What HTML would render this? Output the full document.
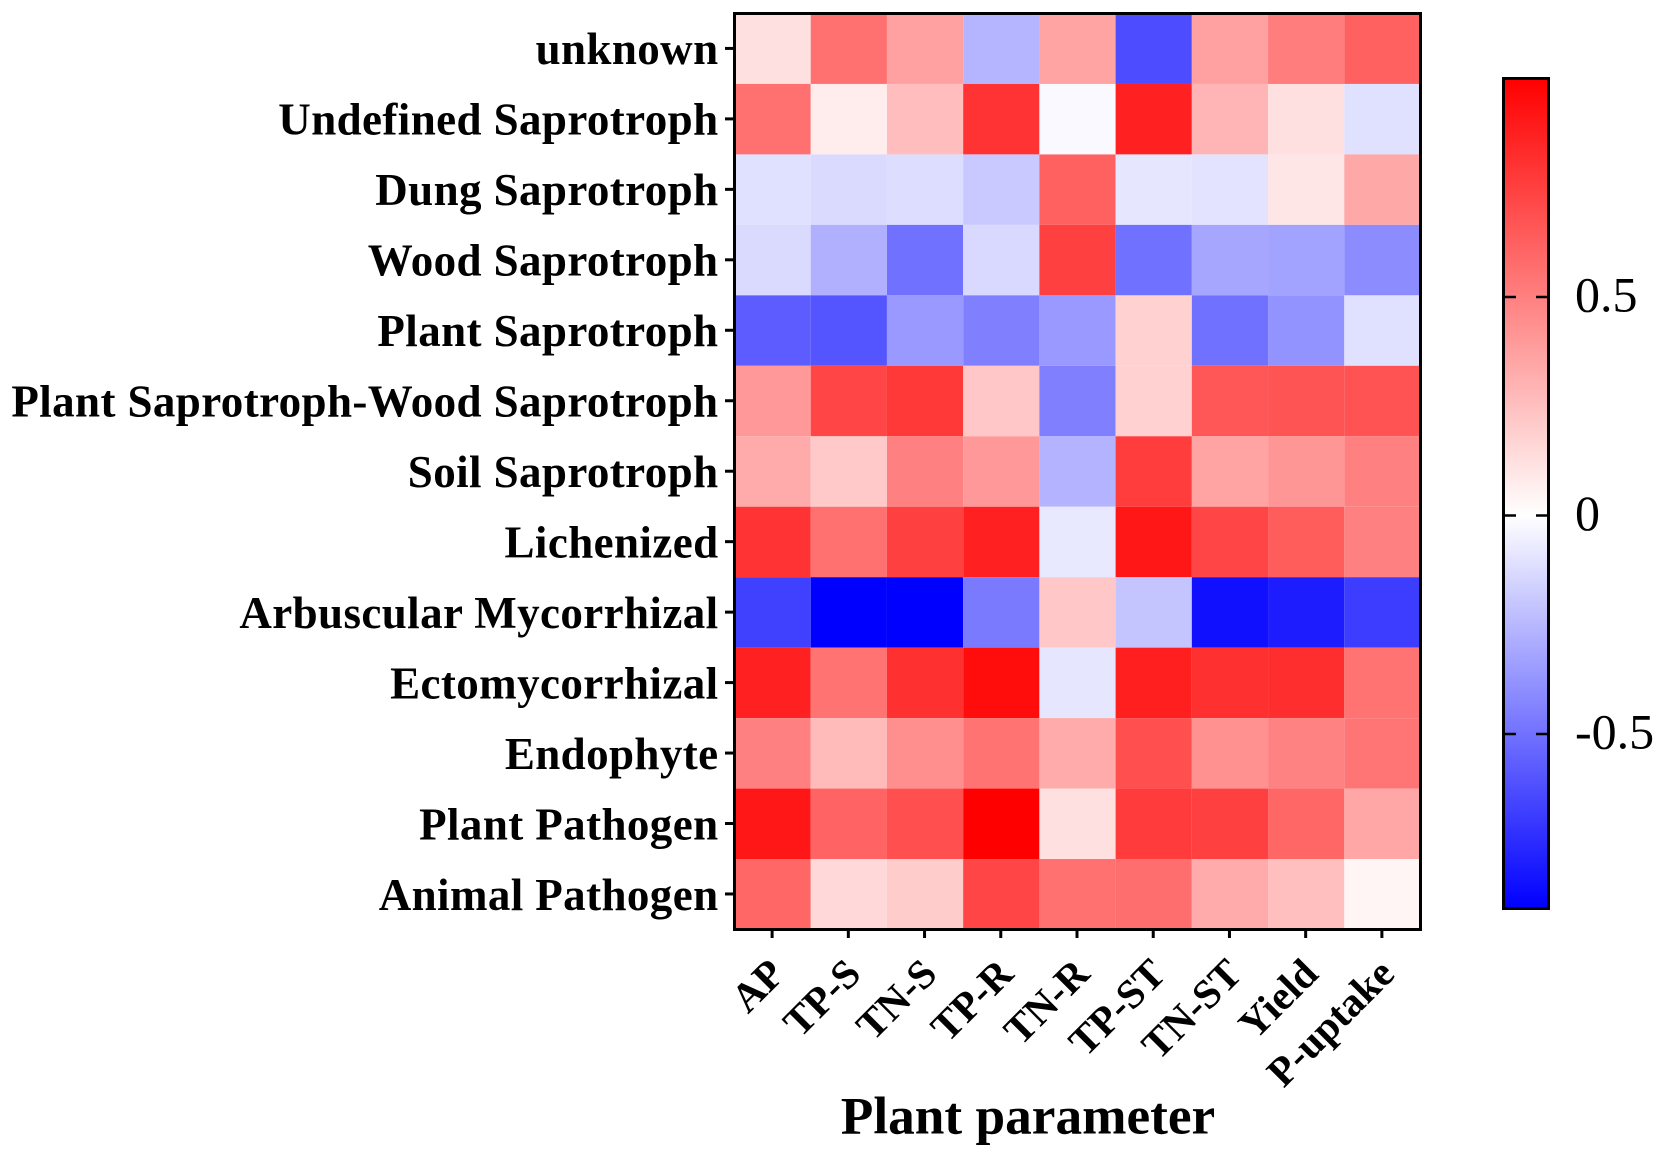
<!DOCTYPE html>
<html lang="en">
<head>
<meta charset="utf-8">
<title>Fungal guild vs plant parameter heatmap</title>
<style>
html,body{margin:0;padding:0;background:#fff;width:1664px;height:1156px;overflow:hidden}
svg{display:block}
text{font-family:"Liberation Serif",serif;fill:#000}
.row-label{font-weight:700;font-size:45px;letter-spacing:.4px}
.col-label{font-weight:700;font-size:41px}
.axis-title{font-weight:700;font-size:53.3px}
.bar-label{font-size:50px}
</style>
</head>
<body>
<svg id="chart" xmlns="http://www.w3.org/2000/svg" width="1664" height="1156" viewBox="0 0 1664 1156">
  <defs>
    <linearGradient id="bar-gradient" x1="0" y1="1" x2="0" y2="0"></linearGradient>
  </defs>
  <g id="cells"></g>
  <rect x="734.5" y="13.5" width="686" height="916" fill="none" stroke="#000" stroke-width="3"></rect>
  <g id="y-axis"></g>
  <g id="x-axis"></g>
  <text class="axis-title" x="1028" y="1133.5" text-anchor="middle">Plant parameter</text>
  <g id="colorbar">
    <rect x="1503.5" y="78.5" width="45" height="830" fill="url(#bar-gradient)" stroke="#000" stroke-width="3"></rect>
  </g>
</svg>
<script>
const guilds = ["unknown","Undefined Saprotroph","Dung Saprotroph","Wood Saprotroph","Plant Saprotroph","Plant Saprotroph-Wood Saprotroph","Soil Saprotroph","Lichenized","Arbuscular Mycorrhizal","Ectomycorrhizal","Endophyte","Plant Pathogen","Animal Pathogen"];
const parameters = ["AP","TP-S","TN-S","TP-R","TN-R","TP-ST","TN-ST","Yield","P-uptake"];
const rowUnknown = [.12,.56,.37,-.26,.36,-.63,.37,.51,.62];
const rowUndefined = [.56,.07,.26,.80,-.02,.87,.29,.12,-.11];
const rowDung = [-.11,-.13,-.12,-.19,.62,-.09,-.10,.10,.34];
const rowWood = [-.13,-.28,-.50,-.135,.75,-.50,-.315,-.33,-.405];
const rowPlantSap = [-.575,-.60,-.36,-.45,-.36,.18,-.50,-.38,-.11];
const rowPlantWood = [.40,.73,.78,.22,-.45,.18,.66,.67,.68];
const rowSoil = [.33,.21,.50,.40,-.27,.76,.36,.41,.50];
const rowLichenized = [.80,.56,.75,.87,-.08,.91,.73,.64,.50];
const rowArbuscular = [-.675,-.90,-.90,-.47,.22,-.21,-.845,-.80,-.685];
const rowEcto = [.87,.55,.81,.95,-.09,.88,.81,.82,.55];
const rowEndophyte = [.50,.27,.44,.55,.33,.69,.43,.49,.54];
const rowPlantPathogen = [.91,.61,.69,1.0,.12,.77,.75,.60,.35];
const rowAnimalPathogen = [.60,.15,.20,.73,.56,.57,.33,.25,.04];
const values = [rowUnknown,rowUndefined,rowDung,rowWood,rowPlantSap,rowPlantWood,rowSoil,rowLichenized,rowArbuscular,rowEcto,rowEndophyte,rowPlantPathogen,rowAnimalPathogen];
const barTicks = [0.5,0,-0.5];
const barTickLabels = ["0.5","0","-0.5"];
const colorDomain = [-0.9,0,1];

const NS = "http://www.w3.org/2000/svg";
const plot = {left:734.5,right:1420.5,top:13.5,bottom:929.5};
const bar = {left:1505,right:1547,zeroY:515.5,unit:437};

const colW = (plot.right-plot.left)/parameters.length;
const rowH = (plot.bottom-plot.top)/guilds.length;
const xScale = function(i){return plot.left+i*colW;};
const yScale = function(i){return plot.top+i*rowH;};
const barScale = function(v){return bar.zeroY-v*bar.unit;};
const colorOf = function(v){
  const t = v>=0 ? Math.min(1,v/colorDomain[2]) : Math.min(1,v/colorDomain[0]);
  const c = Math.round(255*(1-t));
  return v>=0 ? "rgb(255,"+c+","+c+")" : "rgb("+c+","+c+",255)";
};
const make = function(tag,parent){
  const el = document.createElementNS(NS,tag);
  parent.appendChild(el);
  return el;
};

const cellsG = document.getElementById("cells");
values.forEach(function(row,r){
  row.forEach(function(v,c){
    const cell = make("rect",cellsG);
    cell.setAttribute("x",xScale(c));
    cell.setAttribute("y",yScale(r));
    cell.setAttribute("width",colW);
    cell.setAttribute("height",rowH);
    cell.setAttribute("fill",colorOf(v));
    
    
  });
});

const yG = document.getElementById("y-axis");
guilds.forEach(function(name,r){
  const cy = yScale(r)+rowH/2;
  const tick = make("line",yG);
  tick.setAttribute("x1",725);
  tick.setAttribute("x2",733);
  tick.setAttribute("y1",cy-0.3);
  tick.setAttribute("y2",cy-0.3);
  tick.setAttribute("stroke","#000");
  tick.setAttribute("stroke-width",3);
  
  
  const label = make("text",yG);
  label.setAttribute("class","row-label");
  label.setAttribute("x",718.5);
  label.setAttribute("y",cy+15.5);
  label.setAttribute("text-anchor","end");
  label.textContent = name;
  
  
});

const xG = document.getElementById("x-axis");
parameters.forEach(function(name,c){
  const cx = xScale(c)+colW/2;
  const tick = make("line",xG);
  tick.setAttribute("x1",cx-0.5);
  tick.setAttribute("x2",cx-0.5);
  tick.setAttribute("y1",931);
  tick.setAttribute("y2",938);
  tick.setAttribute("stroke","#000");
  tick.setAttribute("stroke-width",3);
  
  
  const label = make("text",xG);
  const lx = cx+14;
  const ly = 976;
  label.setAttribute("class","col-label");
  label.setAttribute("x",lx);
  label.setAttribute("y",ly);
  label.setAttribute("text-anchor","end");
  label.setAttribute("transform","rotate(-45 "+lx+" "+ly+")");
  label.textContent = name;
  
  
});

const grad = document.getElementById("bar-gradient");
colorDomain.forEach(function(v){
  const stop = make("stop",grad);
  stop.setAttribute("offset",(v-colorDomain[0])/(colorDomain[2]-colorDomain[0]));
  stop.setAttribute("stop-color",colorOf(v));
});

const barG = document.getElementById("colorbar");
barTicks.forEach(function(v,i){
  const y = barScale(v);
  const stubLeft = make("line",barG);
  stubLeft.setAttribute("x1",bar.left);
  stubLeft.setAttribute("x2",bar.left+11);
  stubLeft.setAttribute("y1",y);
  stubLeft.setAttribute("y2",y);
  stubLeft.setAttribute("stroke","#000");
  stubLeft.setAttribute("stroke-width",2.5);
  
  
  const stubRight = make("line",barG);
  stubRight.setAttribute("x1",bar.right-11);
  stubRight.setAttribute("x2",bar.right);
  stubRight.setAttribute("y1",y);
  stubRight.setAttribute("y2",y);
  stubRight.setAttribute("stroke","#000");
  stubRight.setAttribute("stroke-width",2.5);
  
  
  const label = make("text",barG);
  label.setAttribute("class","bar-label");
  label.setAttribute("x",1575);
  label.setAttribute("y",y+14.5);
  label.textContent = barTickLabels[i];
  
  
});
</script>
</body>
</html>
